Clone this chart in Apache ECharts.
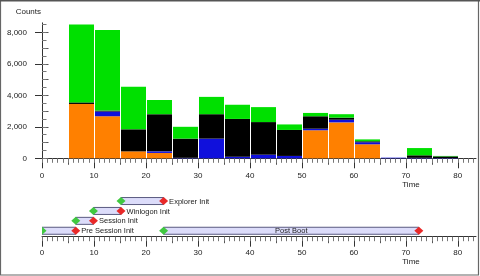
<!DOCTYPE html>
<html>
<head>
<meta charset="utf-8">
<script src="https://cdn.jsdelivr.net/npm/echarts@6/dist/echarts.min.js"></script>
<style>html,body{margin:0;padding:0;background:#fff}#c{width:480px;height:276px}</style>
</head>
<body>
<div id="c"></div>
<script>
// ---- data ----
var binStart = [5, 10, 15, 20, 25, 30, 35, 40, 45, 50, 55, 60, 65, 70, 75];
var binWidth = 5;
var orangeVals = [3450, 2670, 440, 340, 0, 0, 0, 0, 0, 1780, 2280, 890, 0, 0, 0];
var blueVals   = [0, 300, 0, 100, 30, 1250, 100, 230, 150, 100, 170, 130, 40, 30, 20];
var blackVals  = [100, 60, 1400, 2360, 1220, 1550, 2400, 2070, 1650, 790, 130, 60, 0, 160, 100];
var greenVals  = [4950, 5120, 2710, 900, 750, 1100, 900, 950, 350, 210, 220, 120, 0, 460, 30];

var phaseNames = ['Pre Session Init', 'Session Init', 'Winlogon Init', 'Explorer Init', 'Post Boot'];
var phaseStart = [0, 6.5, 9.9, 15.2, 23.4];
var phaseEnd   = [6.5, 9.9, 15.2, 23.4, 72.5];
var phaseRow   = [0, 1, 2, 3, 0];
var phaseLabelPos = ['right', 'right', 'right', 'right', 'inside'];

var xTickLabels = [0, 10, 20, 30, 40, 50, 60, 70, 80];
var xMidTicks = [5, 15, 25, 35, 45, 55, 65, 75];
var yTickLabels = [0, 2000, 4000, 6000, 8000];
var xMax = 83.5, yMax = 8600;

// ---- build ----
var FONT = 'Liberation Sans';
var TXT = '#222';
var layers = [
  {vals: orangeVals, color: '#ff8000'},
  {vals: blueVals, color: '#1010dc'},
  {vals: blackVals, color: '#000000'},
  {vals: greenVals, color: '#00e000'}
];
var cum = binStart.map(function () { return 0; });
var barSeries = layers.map(function (L) {
  var data = binStart.map(function (s, i) {
    var b = cum[i];
    cum[i] += L.vals[i];
    return [s, s + binWidth, b, cum[i]];
  });
  return {
    type: 'custom', xAxisIndex: 0, yAxisIndex: 0, data: data, silent: true,
    encode: {x: [0, 1], y: [2, 3]},
    renderItem: function (params, api) {
      var x0 = api.value(0), x1 = api.value(1), y0 = api.value(2), y1 = api.value(3);
      if (y1 <= y0) return;
      var p0 = api.coord([x0, y0]), p1 = api.coord([x1, y1]);
      var l = Math.round(p0[0]) + 1, r = Math.round(p1[0]);
      return {type: 'rect', shape: {x: l, y: p1[1], width: r - l, height: p0[1] - p1[1]},
              style: {fill: L.color}};
    }
  };
});

function range(a, b, step) { var r = []; for (var v = a; v <= b + 1e-9; v += step) r.push(v); return r; }
var xMinor = range(0, 83, 1);
var yMinor = range(0, 8500, 500);
var yMid = range(0, 8000, 1000);

function fmt(v) { return Number(v).toLocaleString('en-US'); }

function xAxes(grid, margin) {
  var base = {gridIndex: grid, type: 'value', min: 0, max: xMax, position: 'bottom',
    splitLine: {show: false}};
  return [
    Object.assign({}, base, {
      axisLine: {show: true, onZero: false, lineStyle: {color: '#333', width: 1}},
      axisTick: {show: true, customValues: xTickLabels, length: 10, lineStyle: {color: '#333'}},
      axisLabel: {show: true, customValues: xTickLabels, margin: margin, fontSize: 8, fontFamily: FONT, color: TXT}
    }),
    Object.assign({}, base, {
      axisLine: {show: false, onZero: false},
      axisTick: {show: true, customValues: xMidTicks, length: 6.5, lineStyle: {color: '#555'}},
      axisLabel: {show: false}
    }),
    Object.assign({}, base, {
      axisLine: {show: false, onZero: false},
      axisTick: {show: true, customValues: xMinor, length: 4.5, lineStyle: {color: '#777'}},
      axisLabel: {show: false}
    })
  ];
}

var xAxisList = xAxes(0, 13).concat(xAxes(1, 12));

var yAxisList = [
  {gridIndex: 0, type: 'value', min: 0, max: yMax, splitLine: {show: false},
    axisLine: {show: true, lineStyle: {color: '#333'}},
    axisTick: {show: true, customValues: yTickLabels, length: 7, lineStyle: {color: '#333'}},
    axisLabel: {show: true, customValues: yTickLabels, margin: 15, fontSize: 8, fontFamily: FONT, color: TXT,
      formatter: fmt}},
  {gridIndex: 0, type: 'value', min: 0, max: yMax, splitLine: {show: false},
    axisLine: {show: false},
    axisTick: {show: true, customValues: yMid, length: 6.5, lineStyle: {color: '#555'}},
    axisLabel: {show: false}},
  {gridIndex: 0, type: 'value', min: 0, max: yMax, splitLine: {show: false},
    axisLine: {show: false},
    axisTick: {show: true, customValues: yMinor, length: 4.5, lineStyle: {color: '#777'}},
    axisLabel: {show: false}},
  {gridIndex: 1, type: 'value', min: -0.6, max: 3.6, show: false}
];

var phaseData = phaseNames.map(function (n, i) { return [phaseStart[i], phaseEnd[i], phaseRow[i], i]; });

var timelineSeries = {
  type: 'custom', xAxisIndex: 3, yAxisIndex: 3, data: phaseData, clip: true, silent: true,
  encode: {x: [0, 1], y: 2},
  renderItem: function (params, api) {
    var s = api.value(0), e = api.value(1), row = api.value(2), idx = api.value(3);
    var p0 = api.coord([s, row]), p1 = api.coord([e, row]);
    var cy = p0[1];
    var children = [
      {type: 'rect', shape: {x: p0[0], y: cy - 3.5, width: p1[0] - p0[0], height: 7},
        style: {fill: '#dcdcfa', stroke: '#5a5a80', lineWidth: 1}},
      {type: 'polygon', shape: {points: [[p0[0] - 4.5, cy], [p0[0], cy - 4], [p0[0] + 4.5, cy], [p0[0], cy + 4]]},
        style: {fill: '#40c840'}},
      {type: 'polygon', shape: {points: [[p1[0] - 4.5, cy], [p1[0], cy - 4], [p1[0] + 4.5, cy], [p1[0], cy + 4]]},
        style: {fill: '#e82828'}}
    ];
    var inside = phaseLabelPos[idx] === 'inside';
    children.push({type: 'text', x: inside ? (p0[0] + p1[0]) / 2 : p1[0] + 5.5, y: cy + 0.5,
      style: {text: phaseNames[idx], fill: TXT, font: '7.5px ' + FONT,
        align: inside ? 'center' : 'left', verticalAlign: 'middle'}});
    return {type: 'group', children: children};
  }
};

var chart = echarts.init(document.getElementById('c'), null, {renderer: 'canvas'});
chart.setOption({
  animation: false,
  backgroundColor: '#fff',
  textStyle: {fontFamily: FONT},
  grid: [
    {left: 42, top: 22.85, width: 434, height: 135.45, containLabel: false},
    {left: 42, top: 195.1, width: 434, height: 41.6, containLabel: false}
  ],
  xAxis: xAxisList,
  yAxis: yAxisList,
  series: barSeries.concat([timelineSeries]),
  graphic: [
    {type: 'rect', shape: {x: 0.5, y: 0.5, width: 478, height: 274.5}, style: {fill: 'none', stroke: '#666', lineWidth: 1.2}},
    {type: 'line', shape: {x1: 0, y1: 0.75, x2: 480, y2: 0.75}, style: {stroke: '#555', lineWidth: 1.5}},
    {type: 'text', x: 41, y: 12, style: {text: 'Counts', fill: TXT, font: '8px ' + FONT, align: 'right', verticalAlign: 'middle'}},
    {type: 'text', x: 411, y: 184.5, style: {text: 'Time', fill: TXT, font: '8px ' + FONT, align: 'center', verticalAlign: 'middle'}},
    {type: 'text', x: 411, y: 262, style: {text: 'Time', fill: TXT, font: '8px ' + FONT, align: 'center', verticalAlign: 'middle'}}
  ]
});
</script>
</body>
</html>
